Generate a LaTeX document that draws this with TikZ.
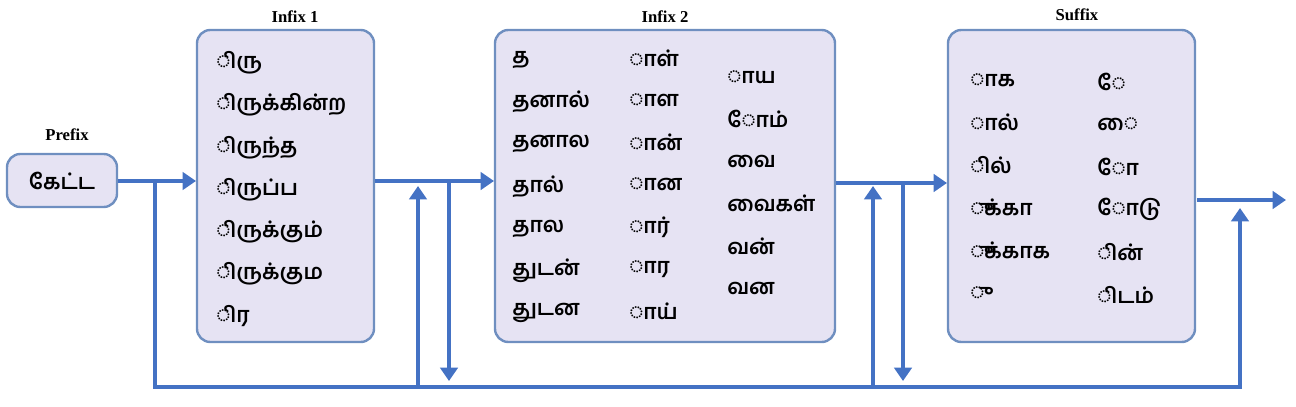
\documentclass[tikz,border=0pt]{standalone}
\usepackage{fontspec}
\setmainfont{Liberation Serif}
\newfontfamily\tam[Script=Tamil]{Hind Madurai SemiBold}
\usetikzlibrary{arrows.meta}
\definecolor{boxfill}{HTML}{E6E3F3}
\definecolor{boxline}{HTML}{6F8FC0}
\definecolor{arr}{HTML}{4472C4}
\tikzset{
 stage/.style={draw=boxline,line width=1.8pt,fill=boxfill,rounded corners=10pt},
 lbl/.style={font=\bfseries\fontsize{12.5}{14}\selectfont},
 ta/.style={anchor=west,font=\tam\fontsize{16}{18}\selectfont,inner sep=0pt},
 flow/.style={draw=arr,line width=3.6pt,-{Triangle[width=13pt,length=10pt]}},
 line/.style={draw=arr,line width=3.6pt}
}
\begin{document}
\begin{tikzpicture}[x=0.75pt,y=-0.75pt]
\useasboundingbox (0,0) rectangle (1296,407);
% boxes
\draw[stage] (7,154) rectangle (117,207);
\node[lbl] (lp) at (67,135) {Prefix};
\node[ta,anchor=center] (pre) at (62,181) {கேட்ட};
\coordinate (preE) at (118,181);
\draw[stage] (197,30) rectangle (374,342);
\node[lbl] (l1) at (295,17) {Infix 1};
\draw[stage] (495,30) rectangle (835,342);
\node[lbl] (l2) at (665,17) {Infix 2};
\draw[stage] (948,30) rectangle (1195,342);
\node[lbl] (l3) at (1077,15) {Suffix};
% infix1 texts
\foreach \t [count=\i] in {◌ிரு,◌ிருக்கின்ற,◌ிருந்த,◌ிருப்ப,◌ிருக்கும்,◌ிருக்கும,◌ிர}
 \node[ta] (a\i) at (216,{63+42.2*(\i-1)}) {\t};
\foreach \t [count=\i] in {த,தனால்,தனால,தால்,தால,துடன்,துடன}
 \node[ta] (b\i) at (512,{60+42.2*(\i-1)}) {\t};
\foreach \t [count=\i] in {◌ாள்,◌ாள,◌ான்,◌ான,◌ார்,◌ார,◌ாய்}
 \node[ta] (c\i) at (629,{58+42.2*(\i-1)}) {\t};
\foreach \t [count=\i] in {◌ாய,◌ோம்,வை,வைகள்,வன்,வன}
 \node[ta] (d\i) at (727,{77+42.2*(\i-1)}) {\t};
\foreach \t [count=\i] in {◌ாக,◌ால்,◌ில்,◌ுக்கா,◌ுக்காக,◌ு}
 \node[ta] (e\i) at (970,{80+42.6*(\i-1)}) {\t};
\foreach \t [count=\i] in {◌ே,◌ை,◌ோ,◌ோடு,◌ின்,◌ிடம்}
 \node[ta] (f\i) at (1097,{82+42.6*(\i-1)}) {\t};
% connectors
\coordinate (in1W) at (196,181);
\coordinate (in1E) at (375,181);
\coordinate (in2W) at (494,181);
\coordinate (in2E) at (836,183);
\coordinate (suW) at (947,183);
\coordinate (suE) at (1197,200);
\coordinate (out) at (1286,200);
\coordinate (j1) at (155,181);
\coordinate (bl) at (155,387);
\coordinate (br) at (1240,387);
\coordinate (brT) at (1240,208);
\draw[flow] (preE) -- (in1W);
\draw[line,line join=miter] (j1) -- (bl) -- (br) -- (1240,230);
\draw[flow] (1240,240) -- (brT);
\draw[flow] (in1E) -- (in2W);
\draw[flow] (418,387) -- (418,186);
\draw[flow] (449,181) -- (449,381);
\draw[flow] (in2E) -- (suW);
\draw[flow] (873,387) -- (873,186);
\draw[flow] (903,183) -- (903,381);
\draw[flow] (suE) -- (out);
\end{tikzpicture}
\end{document}
